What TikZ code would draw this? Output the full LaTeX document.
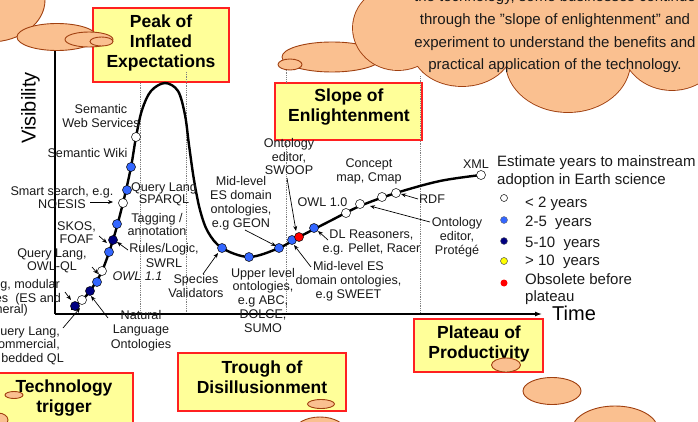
\documentclass[tikz,border=0pt]{standalone}
\usepackage{fontspec}
\setmainfont{Liberation Sans}
\usetikzlibrary{arrows.meta}
\definecolor{boxfill}{HTML}{FFFF99}
\definecolor{boxline}{HTML}{FF2020}
\definecolor{cloudfill}{HTML}{FAC090}
\definecolor{cloudline}{HTML}{A04010}
\definecolor{dotblue}{HTML}{3366FF}
\definecolor{dotnavy}{HTML}{000080}
\definecolor{dotyellow}{HTML}{FFFF00}
\definecolor{dotred}{HTML}{FF0000}
\definecolor{txt}{HTML}{1A1A1A}
\tikzset{
 phase/.style={draw=boxline, fill=boxfill, line width=1.1pt},
 title/.style={font=\fontsize{17.5}{20}\selectfont\bfseries, align=center, anchor=base, inner sep=0pt},
 lbl/.style={font=\fontsize{12.6}{14}\selectfont, align=center, anchor=base, inner sep=0pt, text=txt},
 lblr/.style={font=\fontsize{12.6}{14}\selectfont, anchor=base east, inner sep=0pt, text=txt},
 big/.style={font=\fontsize{15}{17}\selectfont, anchor=base west, inner sep=0pt, text=txt},
 ctext/.style={font=\fontsize{15}{17}\selectfont, anchor=base, inner sep=0pt, text=txt},
 dot/.style={circle, draw=black, line width=0.5pt, inner sep=0pt, minimum size=9pt},
 ldot/.style={circle, inner sep=0pt, minimum size=7pt},
 ptr/.style={-{Stealth[length=5pt,width=4pt]}, line width=0.7pt},
 guide/.style={densely dotted, gray, line width=0.8pt},
 puff/.style={fill=cloudfill, draw=cloudline, line width=0.9pt},
}
\begin{document}
\begin{tikzpicture}[x=1pt,y=-1pt]
\clip (0,0) rectangle (698,422);
\fill[white] (0,0) rectangle (698,422);
% phase boxes
\draw[phase] (93,8) rectangle (229,82);
\draw[phase] (275,83) rectangle (422,140);
\draw[phase] (414,319) rectangle (543,372);
\draw[phase] (178,353) rectangle (346,411);
\draw[phase] (-5,373) rectangle (133,440);
% (multi-line nodes: anchor base = baseline of last line)
\node[title] (tpeak) at (161,68) {Peak of\\Inflated\\Expectations};
\node[title] (tslope) at (349,122) {Slope of\\Enlightenment};
\node[title] (tplat) at (479,358) {Plateau of\\Productivity};
\node[title] (ttrough) at (262,393) {Trough of\\Disillusionment};
\node[title] (ttrig) at (64,412) {Technology\\trigger};
% guides
\draw[guide] (140,83) -- (140,314);
\draw[guide] (186,72) -- (186,314);
\draw[guide] (286,68) -- (286,83);
\draw[guide] (286,140) -- (286,314);
\draw[guide] (420,76) -- (420,314);
% axes
\coordinate (origin) at (55,314);
\coordinate (xend) at (542,314);
\coordinate (ytop) at (55,40);
\draw[line width=1.3pt] (origin) -- (ytop);
\draw[line width=1.3pt, -{Latex[length=7pt,width=5pt]}] (origin) -- (xend);
\node[font=\fontsize{20}{22}\selectfont, anchor=base west, inner sep=0pt] (time) at (552,320) {Time};
\node[font=\fontsize{20}{22}\selectfont, anchor=base, inner sep=0pt, rotate=90] (vis) at (35.5,108) {Visibility};
% hype curve
\draw[line width=2.4pt, line join=round, line cap=round] plot[smooth, tension=0.55] coordinates {
 (72,309) (82,300) (90,291) (102,271) (113,240) (123,203) (131,167) (136,137)
 (142,110) (151,91) (165,83) (178,91) (185,115) (189,145) (194,180) (200,210)
 (208,232) (222,248) (249,257) (279,248) (299,237) (330,221) (360,206) (396,193)
 (440,181) (481,175)};
% dots
\node[dot, fill=dotnavy] (d1) at (75,306) {};
\node[dot, fill=white] (d2) at (82,300) {};
\node[dot, fill=dotnavy] (d3) at (90,291) {};
\node[dot, fill=dotblue] (d4) at (97,282) {};
\node[dot, fill=white] (d5) at (102,271) {};
\node[dot, fill=dotblue] (d6) at (109,252) {};
\node[dot, fill=dotnavy] (d7) at (113,240) {};
\node[dot, fill=dotblue] (d8) at (117,224) {};
\node[dot, fill=white] (d9) at (123,203) {};
\node[dot, fill=dotblue] (d10) at (127,190) {};
\node[dot, fill=dotblue] (d11) at (131,167) {};
\node[dot, fill=white] (d12) at (136,137) {};
\node[dot, fill=dotblue] (d13) at (222,248) {};
\node[dot, fill=dotblue] (d14) at (249,257) {};
\node[dot, fill=dotblue] (d15) at (279,248) {};
\node[dot, fill=dotblue] (d16) at (292,240) {};
\node[dot, fill=dotred] (d17) at (299,237) {};
\node[dot, fill=dotblue] (d18) at (314,228) {};
\node[dot, fill=white] (d19) at (346,213) {};
\node[dot, fill=white] (d20) at (360,204) {};
\node[dot, fill=white] (d21) at (382,197) {};
\node[dot, fill=white] (d22) at (396,193) {};
\node[dot, fill=white] (d23) at (481,175) {};
% labels (anchor base = last line baseline)
\node[lbl] (sws) at (101,128) {Semantic\\Web Services};
\node[lbl] (swiki) at (87.5,158) {Semantic Wiki};
\node[lbl, font=\fontsize{12.6}{13}\selectfont] (noesis) at (62,208) {Smart search, e.g.\\NOESIS};
\node[lbl, font=\fontsize{12.6}{13}\selectfont] (sparql) at (164,204) {Query Lang\\SPARQL};
\node[lbl, font=\fontsize{12.6}{13}\selectfont] (tagging) at (157,235) {Tagging /\\annotation};
\node[lbl, font=\fontsize{12.6}{15}\selectfont] (rules) at (164,267) {Rules/Logic,\\SWRL};
\node[lbl, font=\fontsize{12.6}{13}\selectfont] (skos) at (76.5,243) {SKOS,\\FOAF};
\node[lbl, font=\fontsize{12.6}{13}\selectfont] (owlql) at (52,270) {Query Lang,\\OWL-QL};
\node[lbl, font=\fontsize{12.6}{14}\selectfont\itshape] (owl11) at (137.5,280) {OWL 1.1};
\node[lblr] (mod1) at (60,288) {g, modular};
\node[lblr] (mod2) at (61,302) {es\ \ (ES and};
\node[lblr] (mod3) at (28,313) {neral)};
\node[lblr] (com1) at (60,335) {uery Lang,};
\node[lblr] (com2) at (60,348) {ommercial,};
\node[lblr] (com3) at (64,362) {bedded QL};
\node[lbl, font=\fontsize{12.6}{14.5}\selectfont] (natural) at (141,348) {Natural\\Language\\Ontologies};
\node[lbl] (species) at (196,297) {Species\\Validators};
\node[lbl] (geon) at (241,227) {Mid-level\\ES domain\\ontologies,\\e.g GEON};
\node[lbl, font=\fontsize{12.6}{13.7}\selectfont] (upper) at (263,332) {Upper level\\ontologies,\\e.g ABC,\\DOLCE,\\SUMO};
\node[lbl, font=\fontsize{12.6}{13.5}\selectfont] (swoop) at (289,175) {Ontology\\editor,\\SWOOP};
\node[lbl] (cmap) at (369,182) {Concept\\map, Cmap};
\node[lbl] (owl10) at (322.5,206) {OWL 1.0};
\node[lbl] (rdf) at (432,203) {RDF};
\node[lbl] (protege) at (457,254) {Ontology\\editor,\\Protégé};
\node[lbl] (dl) at (371.5,252) {DL Reasoners,\\e.g. Pellet, Racer};
\node[lbl] (sweet) at (348.5,298) {Mid-level ES\\domain ontologies,\\e.g SWEET};
\node[lbl] (xml) at (476,168) {XML};
% pointers
\coordinate (p1s) at (90,202);  \coordinate (p1e) at (113,202);
\coordinate (p2s) at (128,250); \coordinate (p2e) at (117,242);
\coordinate (p3s) at (99,236);  \coordinate (p3e) at (107,243);
\coordinate (p4s) at (92,267);  \coordinate (p4e) at (98,274);
\coordinate (p5s) at (65,292);  \coordinate (p5e) at (71,300);
\coordinate (p6s) at (63,328);  \coordinate (p6e) at (80,308);
\coordinate (p7s) at (108,318); \coordinate (p7e) at (91,296);
\coordinate (p8s) at (203,274); \coordinate (p8e) at (218,253);
\coordinate (p9s) at (245,230); \coordinate (p9e) at (276,246);
\coordinate (p10s) at (287,178); \coordinate (p10e) at (296,231);
\coordinate (p11s) at (311,267); \coordinate (p11e) at (294,245);
\coordinate (p12s) at (328,240); \coordinate (p12e) at (318,231);
\coordinate (p13s) at (418,199); \coordinate (p13e) at (401,194);
\coordinate (p14s) at (430,222); \coordinate (p14e) at (370,206);
\foreach \i in {1,...,14} \draw[ptr] (p\i s) -- (p\i e);
% top-left cloud
\path[puff] (-10,0) ellipse [x radius=55, y radius=42];
\path[puff] (57,37) ellipse [x radius=40, y radius=13.5];
\path[puff] (89,39.5) ellipse [x radius=24, y radius=7.5];
\path[puff] (101.5,41.5) ellipse [x radius=11.5, y radius=4.5];
% top-right cloud
\path[puff] (332,57) ellipse [x radius=50, y radius=15];
\path[puff] (290,64.5) ellipse [x radius=12, y radius=5.5];
\foreach \cx/\cy/\rx/\ry in {398/28/45/42, 462/48/50/38, 568/62/62/50, 672/45/50/45, 550/5/160/50}
  \draw[cloudline, line width=1.8pt] (\cx,\cy) ellipse [x radius=\rx, y radius=\ry];
\foreach \cx/\cy/\rx/\ry in {398/28/45/42, 462/48/50/38, 568/62/62/50, 672/45/50/45, 550/5/160/50}
  \fill[cloudfill] (\cx,\cy) ellipse [x radius=\rx, y radius=\ry];
\node[ctext] (c1) at (555,2) {the technology, some businesses continue};
\node[ctext] (c2) at (555,24.7) {through the "slope of enlightenment" and};
\node[ctext] (c3) at (555,47.4) {experiment to understand the benefits and};
\node[ctext] (c4) at (555,70) {practical application of the technology.};
% bottom puffs
\path[puff] (14,395) ellipse [x radius=9, y radius=3.5];
\path[puff] (-2,420) ellipse [x radius=10, y radius=7];
\path[puff] (321,404) ellipse [x radius=13.5, y radius=4.5];
\path[puff] (320,432) ellipse [x radius=26, y radius=15];
\path[puff] (506,365) ellipse [x radius=14.5, y radius=7];
\path[puff] (552,391) ellipse [x radius=29, y radius=13.5];
\path[puff] (615,430) ellipse [x radius=43, y radius=24];
% legend
\node[big] (lg1) at (497,167) {Estimate years to mainstream};
\node[big] (lg2) at (497,184) {adoption in Earth science};
\node[ldot, draw=black, line width=0.5pt, fill=white] (k1) at (504,198) {};
\node[ldot, draw=black!60, line width=0.4pt, fill=dotblue] (k2) at (504,220) {};
\node[ldot, draw=black!60, line width=0.4pt, fill=dotnavy] (k3) at (504,241) {};
\node[ldot, draw=black!70, line width=0.5pt, fill=dotyellow] (k4) at (504,261) {};
\node[ldot, fill=dotred] (k5) at (504,283) {};
\node[big] (lt1) at (525,207) {< 2 years};
\node[big] (lt2) at (525,226) {2-5\ \ years};
\node[big] (lt3) at (525,247) {5-10\ \ years};
\node[big] (lt4) at (525,265) {> 10\ \ years};
\node[big] (lt5) at (525,284) {Obsolete before};
\node[big] (lt6) at (525,301) {plateau};
\end{tikzpicture}
\end{document}
